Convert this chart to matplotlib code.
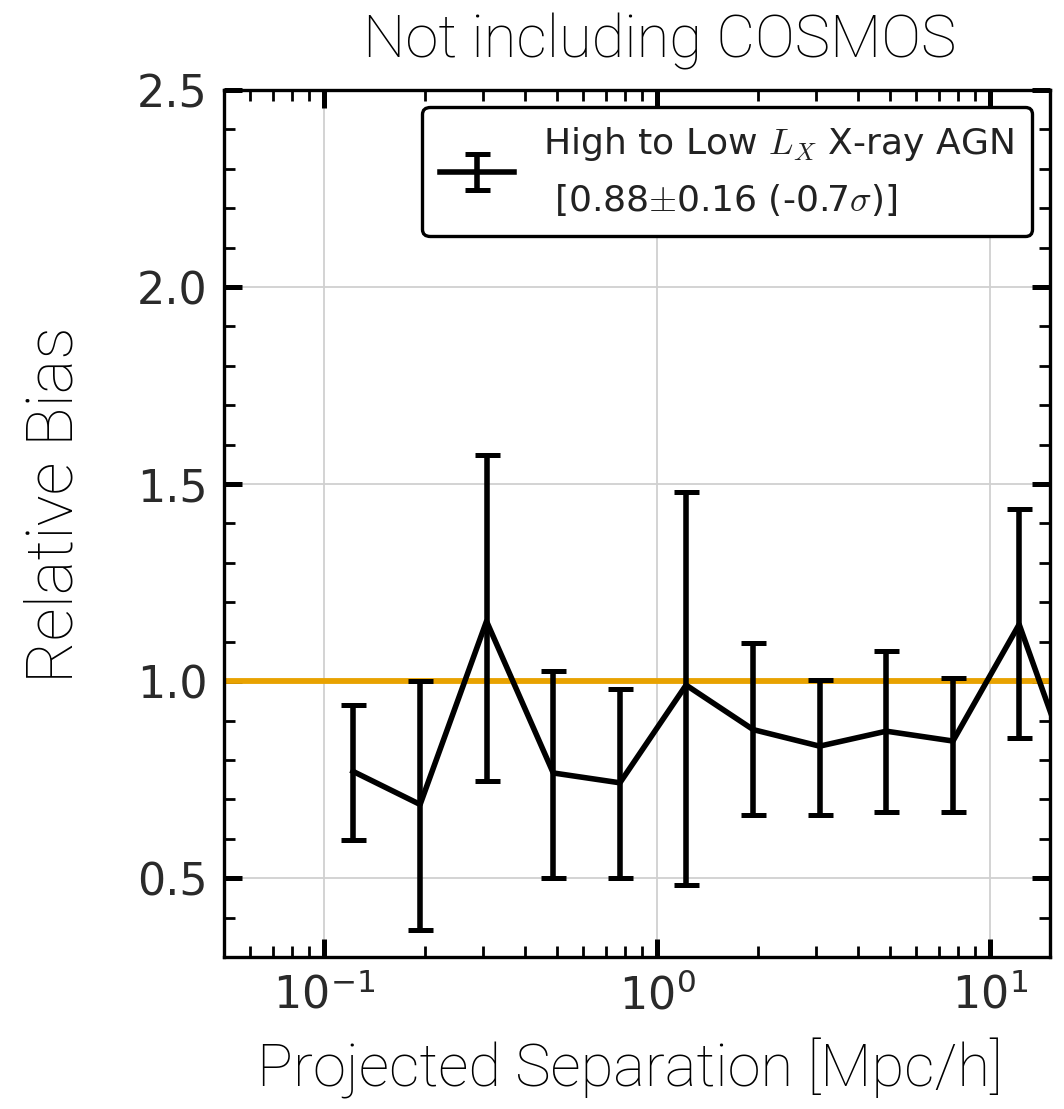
import matplotlib
matplotlib.use("Agg")
import matplotlib.pyplot as plt
import numpy as np

# Relative bias of high- to low-luminosity X-ray AGN vs projected separation
r_sep = [0.122, 0.194, 0.307, 0.487, 0.772, 1.22, 1.94, 3.07, 4.87, 7.72, 12.2, 19.4]
bias = [0.771, 0.687, 1.152, 0.767, 0.742, 0.990, 0.877, 0.835, 0.873, 0.848, 1.144, 0.667]
err_hi = [0.94, 1.00, 1.574, 1.025, 0.979, 1.481, 1.097, 1.004, 1.076, 1.008, 1.436, 0.90]
err_lo = [0.598, 0.369, 0.746, 0.500, 0.500, 0.483, 0.661, 0.661, 0.668, 0.668, 0.856, 0.45]

legend_label = "High to Low $L_X$ X-ray AGN\n [0.88$\\pm$0.16 (-0.7$\\sigma$)]"
title_text = "Not including COSMOS"
xlabel_text = "Projected Separation [Mpc/h]"
ylabel_text = "Relative Bias"

plt.rcParams["mathtext.fontset"] = "cm"
plt.rcParams["axes.unicode_minus"] = False
plt.rcParams["font.family"] = ["DejaVu Sans"]

W, H = 1064, 1109
fig = plt.figure(figsize=(W / 100, H / 100), dpi=100)
ax = fig.add_axes([224 / W, 1 - 957 / H, (1050 - 224) / W, (957 - 90) / H])

bias = np.array(bias)
yerr = np.vstack([bias - np.array(err_lo), np.array(err_hi) - bias])

ax.axhline(1.0, color="#E8A200", lw=4.2, zorder=2)
ax.errorbar(r_sep, bias, yerr=yerr, color="black", lw=4.0, elinewidth=4.0,
            capsize=9, capthick=3.6, label=legend_label, zorder=3)

ax.set_xscale("log")
ax.set_xlim(0.05, 15.1)
ax.set_ylim(0.3, 2.5)
ax.set_yticks([0.5, 1.0, 1.5, 2.0, 2.5])
ax.set_yticks(np.arange(0.3, 2.5, 0.1), minor=True)
ax.yaxis.set_major_formatter(matplotlib.ticker.FormatStrFormatter("%.1f"))

ax.grid(True, which="major", color="#d0d0d0", lw=1.3)
for s in ax.spines.values():
    s.set_linewidth(2.4)

ax.tick_params(which="major", direction="in", length=13, width=3.6,
               top=True, right=True, labelsize=32, labelcolor="#2a2a2a", pad=12)
ax.tick_params(which="minor", direction="in", length=8, width=2.0,
               top=True, right=True)

leg = ax.legend(loc="upper right", fontsize=26, fancybox=True, framealpha=1,
                edgecolor="black", handlelength=2.05, handletextpad=0.8,
                borderpad=0.5, borderaxespad=0,
                bbox_to_anchor=((1032 - 224) / 826, (957 - 107) / 867))
leg.get_frame().set_linewidth(2.4)
for t in leg.get_texts():
    t.set_linespacing(1.65)
    t.set_color("#222222")

label_font = dict(family=["Roboto", "DejaVu Sans"], fontweight="light", color="black")
fig.text(660 / W, 1 - 42 / H, title_text, ha="center", va="center",
         fontsize=43, **label_font)
fig.text(630 / W, 1 - 1068 / H, xlabel_text, ha="center", va="center",
         fontsize=43, **label_font)
fig.text(55 / W, 1 - 505 / H, ylabel_text, ha="center", va="center", rotation=90,
         fontsize=47, **label_font)

fig.savefig("out.png", dpi=100)
